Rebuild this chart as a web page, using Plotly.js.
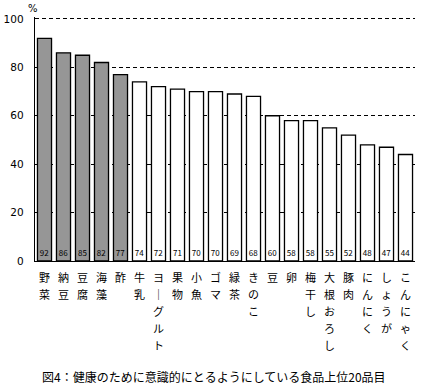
<!DOCTYPE html>
<html><head><meta charset="utf-8">
<script src="https://cdn.plot.ly/plotly-3.0.1.min.js"></script>
<style>body{margin:0;background:#fff}#c{width:425px;height:388px}</style>
</head><body><div id="c"></div>
<script>
const categories = ["野菜","納豆","豆腐","海藻","酢","牛乳","ヨーグルト","果物","小魚","ゴマ","緑茶","きのこ","豆","卵","梅干し","大根おろし","豚肉","にんにく","しょうが","こんにゃく"];
const values = [92,86,85,82,77,74,72,71,70,70,69,68,60,58,58,55,52,48,47,44];
const highlightCount = 5;
const yTicks = [0,20,40,60,80,100];
const captionText = "図4：健康のために意識的にとるようにしている食品上位20品目";

const font = "'Noto Sans CJK JP', 'Noto Sans', sans-serif";
const vertical = s => Array.from(s).map(ch => '<span style="font-size:11px">' + (ch === "ー" ? "｜" : ch) + '</span>').join("<br>");
const colors = values.map((v,i) => i < highlightCount ? "#969696" : "#ffffff");

Plotly.newPlot("c", [{
  type: "bar",
  x: categories,
  y: values,
  marker: {color: colors, line: {color: "#000", width: 1.3}},
  text: values.map(String),
  textposition: "inside",
  insidetextanchor: "start",
  textangle: 0,
  constraintext: "none",
  textfont: {family: font, size: 8, color: "#000"},
  cliponaxis: false,
  hoverinfo: "none"
}], {
  width: 425, height: 388,
  margin: {l: 35, r: 10, t: 17, b: 127},
  paper_bgcolor: "#fff", plot_bgcolor: "#fff",
  bargap: 0.26,
  font: {family: font, color: "#000"},
  showlegend: false,
  xaxis: {
    tickmode: "array", tickvals: categories, ticktext: categories.map(vertical),
    tickfont: {size: 13, family: font},
    showline: true, linecolor: "#000", linewidth: 1.3,
    showgrid: false, ticks: "outside", ticklen: 4, tickcolor: "rgba(0,0,0,0)",
    tickangle: 0, fixedrange: true
  },
  yaxis: {
    range: [0, 100.8], tickmode: "array", tickvals: yTicks,
    tickfont: {size: 10.5, family: "'DejaVu Sans', sans-serif"},
    showline: true, linecolor: "#000", linewidth: 1.3,
    showgrid: true, gridcolor: "#000", gridwidth: 1, griddash: "4px,3px",
    zeroline: false, ticks: "outside", ticklen: 8, tickcolor: "rgba(0,0,0,0)",
    fixedrange: true
  },
  annotations: [
    {text: "%", xref: "paper", yref: "paper", x: -0.005, y: 1, yshift: 9, xanchor: "center", yanchor: "middle", showarrow: false, font: {size: 10, family: "'DejaVu Sans', sans-serif"}},
    {text: captionText, xref: "paper", yref: "paper", x: 0.47, y: -0.475, xanchor: "center", yanchor: "middle", showarrow: false, font: {size: 12, family: font}}
  ]
}, {displayModeBar: false, staticPlot: true});
</script></body></html>
